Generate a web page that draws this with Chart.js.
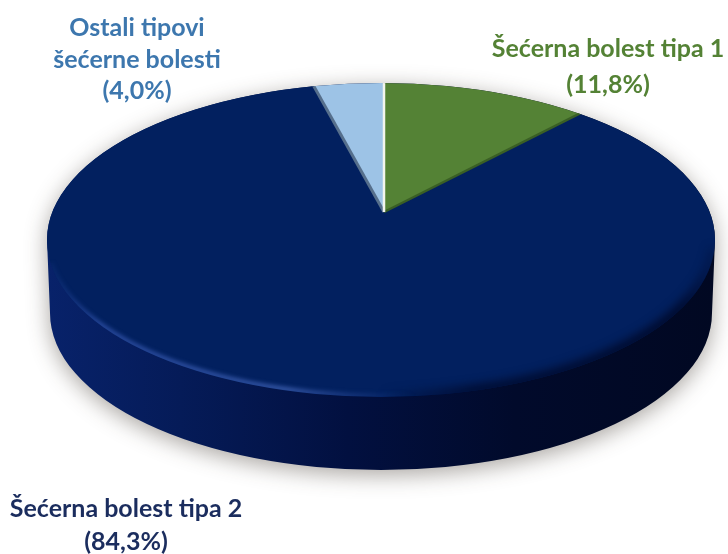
<!DOCTYPE html>
<html>
<head>
<meta charset="utf-8">
<script src="https://cdn.jsdelivr.net/npm/chart.js@4"></script>
<style>
html,body{margin:0;padding:0;background:#fff;}
#wrap{position:relative;width:728px;height:554px;overflow:hidden;}
canvas{position:absolute;left:0;top:0;}
.lab{position:absolute;font-family:Lato,"Open Sans",sans-serif;font-weight:700;font-size:25px;text-align:center;white-space:nowrap;transform:translateX(-50%);}
</style>
</head>
<body>
<div id="wrap"><canvas id="pita" width="728" height="554"></canvas></div>
<script>
const kategorije = ["Šećerna bolest tipa 1", "Šećerna bolest tipa 2", "Ostali tipovi šećerne bolesti"];
const vrijednosti = [11.8, 84.3, 4.0];
const boje = ["#548235", "#02205f", "#9dc3e6"];
const redoviNatpisa = [["Šećerna bolest tipa 1"], ["Šećerna bolest tipa 2"], ["Ostali tipovi", "šećerne bolesti"]];
const bojeNatpisa = ["#548235", "#1b2d5e", "#3d77ae"];
const pozicije = [[608, 29], [126, 491], [137, 11]];
const visineReda = [36, 33, 31.5];

// gornja ploha (elipsa) i vrh pite, pita je u perspektivi pa vrh nije u sredini elipse
const vrh = {x: 384, y: 212}, k = 0.46;
const gore = {x: 381, y: 240, rx: 334, ry: 157};
const dolje = {x: 381, y: 313, rx: 331, ry: 157};

function putanjaGore(ctx){
  ctx.beginPath();
  ctx.ellipse(gore.x, gore.y, gore.rx, gore.ry, 0, 0, Math.PI*2);
}

const pita3d = {
  id: "pita3d",
  beforeDatasetsDraw(chart){
    const ctx = chart.ctx;
    // bocna strana sa sjenom
    const g = ctx.createLinearGradient(gore.x-gore.rx, 0, gore.x+gore.rx, 0);
    g.addColorStop(0, "#08226a");
    g.addColorStop(0.2, "#051b58");
    g.addColorStop(0.45, "#021040");
    g.addColorStop(0.7, "#010a2b");
    g.addColorStop(1, "#010822");
    ctx.save();
    ctx.shadowColor = "rgba(40,30,20,.4)";
    ctx.shadowBlur = 22;
    ctx.shadowOffsetY = 5;
    ctx.fillStyle = g;
    ctx.beginPath();
    ctx.moveTo(gore.x-gore.rx, gore.y);
    ctx.lineTo(dolje.x-dolje.rx, dolje.y);
    ctx.ellipse(dolje.x, dolje.y, dolje.rx, dolje.ry, 0, Math.PI, 0, true);
    ctx.lineTo(gore.x+gore.rx, gore.y);
    ctx.ellipse(gore.x, gore.y, gore.rx, gore.ry, 0, 0, Math.PI, true);
    ctx.closePath();
    ctx.fill();
    ctx.restore();

    // kriske se crtaju iz Chart.js, stisnute i odrezane na elipsu
    const luk = chart.getDatasetMeta(0).data[0];
    ctx.save();
    putanjaGore(ctx);
    ctx.clip();
    ctx.translate(vrh.x, vrh.y);
    ctx.scale(1, k);
    ctx.translate(-luk.x, -luk.y);
  },
  afterDatasetsDraw(chart){
    const ctx = chart.ctx;
    const lukovi = chart.getDatasetMeta(0).data;
    ctx.restore();

    ctx.save();
    putanjaGore(ctx);
    ctx.clip();

    // rubovi izmedu kriski
    const tocka = a => ({x: vrh.x+600*Math.cos(a), y: vrh.y+600*k*Math.sin(a)});
    const crta = (a, boja, w) => {
      const t = tocka(a);
      ctx.strokeStyle = boja;
      ctx.lineWidth = w;
      ctx.beginPath();
      ctx.moveTo(vrh.x, vrh.y);
      ctx.lineTo(t.x, t.y);
      ctx.stroke();
    };
    crta(lukovi[1].startAngle, "#3a5f25", 2.5);
    crta(lukovi[2].startAngle, "#566f8c", 3);
    crta(lukovi[0].startAngle, "#f2f5ee", 2.5);

    // tamni mekani prijelaz desno dolje
    ctx.save();
    ctx.filter = "blur(5px)";
    const t = ctx.createLinearGradient(gore.x-gore.rx, 0, gore.x+gore.rx, 0);
    t.addColorStop(0.5, "rgba(0,8,40,0)");
    t.addColorStop(0.64, "rgba(0,8,40,.8)");
    t.addColorStop(0.95, "rgba(0,8,40,.9)");
    t.addColorStop(1, "rgba(0,8,40,.2)");
    ctx.strokeStyle = t;
    ctx.lineWidth = 12;
    ctx.beginPath();
    ctx.ellipse(gore.x, gore.y, gore.rx, gore.ry, 0, 0.05, 1.8);
    ctx.stroke();
    ctx.restore();

    // svijetli rub lijevo dolje
    ctx.filter = "blur(2px)";
    const s = ctx.createLinearGradient(gore.x-gore.rx, 0, gore.x+gore.rx, 0);
    s.addColorStop(0, "rgba(40,75,170,.1)");
    s.addColorStop(0.08, "rgba(60,95,190,.65)");
    s.addColorStop(0.36, "rgba(70,105,190,.75)");
    s.addColorStop(0.55, "rgba(40,70,150,0)");
    ctx.strokeStyle = s;
    ctx.lineWidth = 5;
    ctx.beginPath();
    ctx.ellipse(gore.x, gore.y, gore.rx, gore.ry-1, 0, 1.4, Math.PI-0.15);
    ctx.stroke();
    ctx.restore();
  }
};

new Chart(document.getElementById("pita"), {
  type: "pie",
  data: {
    labels: kategorije,
    datasets: [{
      data: vrijednosti,
      backgroundColor: boje,
      borderWidth: 0,
      radius: 600,
      clip: false
    }]
  },
  options: {
    responsive: false,
    animation: false,
    events: [],
    layout: {padding: 0},
    plugins: {legend: {display: false}, tooltip: {enabled: false}}
  },
  plugins: [pita3d]
});

const wrap = document.getElementById("wrap");
redoviNatpisa.forEach((redovi, i) => {
  const d = document.createElement("div");
  d.className = "lab";
  d.style.left = pozicije[i][0]+"px";
  d.style.top = pozicije[i][1]+"px";
  d.style.lineHeight = visineReda[i]+"px";
  d.style.color = bojeNatpisa[i];
  d.innerHTML = redovi.join("<br>")+"<br>("+vrijednosti[i].toFixed(1).replace(".", ",")+"%)";
  wrap.appendChild(d);
});
</script>
</body>
</html>
